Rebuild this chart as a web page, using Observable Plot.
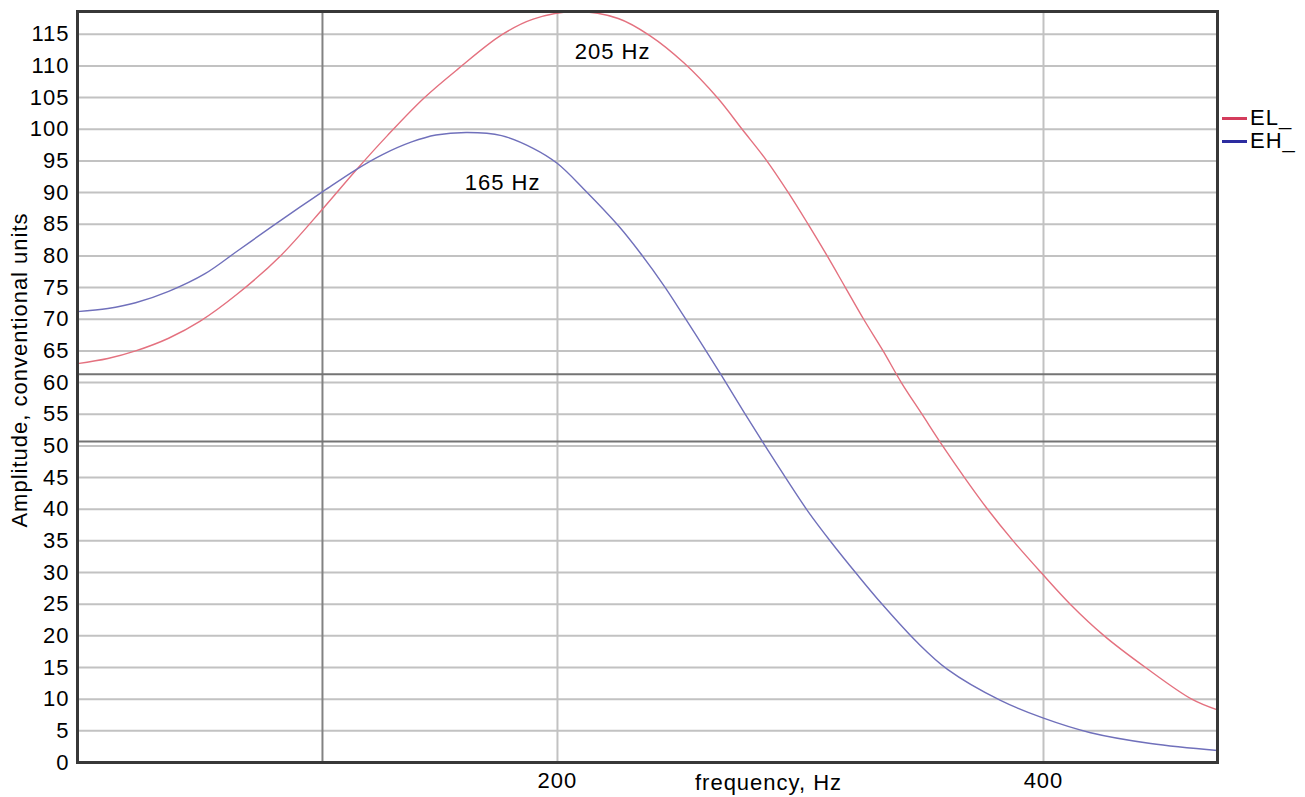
<!DOCTYPE html>
<html>
<head>
<meta charset="utf-8">
<script src="https://cdn.jsdelivr.net/npm/d3@7"></script>
<script src="https://cdn.jsdelivr.net/npm/@observablehq/plot@0.6"></script>
<style>
  html, body { margin: 0; padding: 0; background: #fff; }
  #wrap { position: relative; width: 1305px; height: 797px; font-family: "Liberation Sans", Arial, sans-serif; }
  #wrap svg text { letter-spacing: 1px; }
  .leg { position: absolute; left: 1222px; font-size: 22px; line-height: 22px; letter-spacing: 1px; display: flex; align-items: center; color: #000; }
  .sw { width: 25px; height: 3px; margin-right: 3px; }
</style>
</head>
<body>
<div id="wrap"></div>
<script>
// EL_ series (red)
const freqEL = [2.5, 15, 26.4, 40, 53, 68, 86, 104, 117, 130, 145, 159, 177, 190, 207.5, 225, 238, 252, 266, 276, 286, 295, 303, 311, 318.5, 326, 334, 341.5, 350, 358.5, 367.5, 377, 387.5, 399, 411, 425, 442, 461, 471.6];
const ampEL  = [63.0, 63.8, 65.0, 67.0, 69.7, 73.9, 80.0, 87.7, 93.5, 99.0, 104.9, 109.5, 114.9, 117.4, 118.6, 117.5, 114.8, 110.5, 104.9, 100.0, 95.1, 90.0, 85.1, 80.0, 75.0, 70.0, 65.0, 60.0, 55.0, 50.0, 45.0, 40.0, 35.0, 30.0, 25.0, 20.0, 15.0, 10.0, 8.3];
// EH_ series (blue)
const freqEH = [2.5, 15, 26.4, 40, 55, 68, 82, 94, 104, 117, 128, 140, 150, 163, 177, 190, 200, 211, 225, 234, 244, 252, 261, 269, 276.6, 284.8, 294, 303, 312.4, 323.5, 333.8, 348.2, 360.5, 382.3, 400, 419.4, 444.1, 471.6];
const ampEH  = [71.2, 71.7, 72.6, 74.4, 77.2, 80.7, 84.5, 87.7, 90.3, 93.6, 96.0, 98.0, 99.1, 99.5, 99.0, 97.0, 94.6, 90.5, 84.8, 80.5, 75.2, 70.5, 65.1, 60.2, 55.4, 50.4, 44.9, 39.7, 34.9, 29.6, 24.9, 18.9, 14.7, 9.8, 7.0, 4.7, 3.0, 1.9];

const seriesNames = ["EL_", "EH_"];
const seriesColors = ["#e4717f", "#7070bb"];
const legendColors = ["#d43c5c", "#2c2ca0"];

const yTicks = [0, 5, 10, 15, 20, 25, 30, 35, 40, 45, 50, 55, 60, 65, 70, 75, 80, 85, 90, 95, 100, 105, 110, 115];
const xTicks = [200, 400];
const xRefLine = [103.3];
const yRefLines = [61.3, 50.7];

const peakLabels = ["205 Hz", "165 Hz"];
const peakLabelX = [222.7, 177.4];
const peakLabelY = [112.2, 91.6];

const yLabel = "Amplitude, conventional units";
const xLabel = "frequency, Hz";

const rows = [
  ...freqEL.map((f, i) => ({series: seriesNames[0], f, a: ampEL[i]})),
  ...freqEH.map((f, i) => ({series: seriesNames[1], f, a: ampEH[i]}))
];
const labels = peakLabels.map((t, i) => ({t, x: peakLabelX[i], y: peakLabelY[i]}));

const chart = Plot.plot({
  width: 1305,
  height: 797,
  marginLeft: 77,
  marginRight: 88,
  marginTop: 11,
  marginBottom: 35,
  style: {fontFamily: '"Liberation Sans", Arial, sans-serif', fontSize: "22px", color: "#000", background: "#fff"},
  x: {domain: [2.5, 471.6]},
  y: {domain: [0, 118.6]},
  color: {domain: seriesNames, range: seriesColors},
  marks: [
    Plot.gridY(yTicks, {stroke: "#c2c2c2", strokeOpacity: 1, strokeWidth: 2}),
    Plot.gridX(xTicks, {stroke: "#c2c2c2", strokeOpacity: 1, strokeWidth: 2}),
    Plot.ruleX(xRefLine, {stroke: "#828282", strokeWidth: 2}),
    Plot.ruleY(yRefLines, {stroke: "#747474", strokeWidth: 2}),
    Plot.line(rows, {x: "f", y: "a", z: "series", stroke: "series", strokeWidth: 1.4, curve: "catmull-rom"}),
    Plot.text(labels, {x: "x", y: "y", text: "t", fontSize: 22, fill: "#000"}),
    Plot.frame({stroke: "#383838", strokeWidth: 3}),
    Plot.axisY(yTicks, {tickSize: 0, tickPadding: 8, fontSize: 22, label: null}),
    Plot.axisX(xTicks, {tickSize: 0, tickPadding: 10, fontSize: 22, label: null}),
    Plot.text([xLabel], {frameAnchor: "bottom", textAnchor: "middle", lineAnchor: "middle", dx: 121, dy: 20, fontSize: 22, fill: "#000"}),
    Plot.text([yLabel], {frameAnchor: "left", textAnchor: "middle", lineAnchor: "middle", rotate: -90, dx: -58, dy: -17, fontSize: 22, fill: "#000"})
  ]
});

const wrap = document.getElementById("wrap");
wrap.appendChild(chart);
seriesNames.forEach((name, i) => {
  const d = document.createElement("div");
  d.className = "leg";
  d.style.top = (107 + i * 23) + "px";
  const sw = document.createElement("div");
  sw.className = "sw";
  sw.style.background = legendColors[i];
  d.appendChild(sw);
  d.appendChild(document.createTextNode(name));
  wrap.appendChild(d);
});
</script>
</body>
</html>
